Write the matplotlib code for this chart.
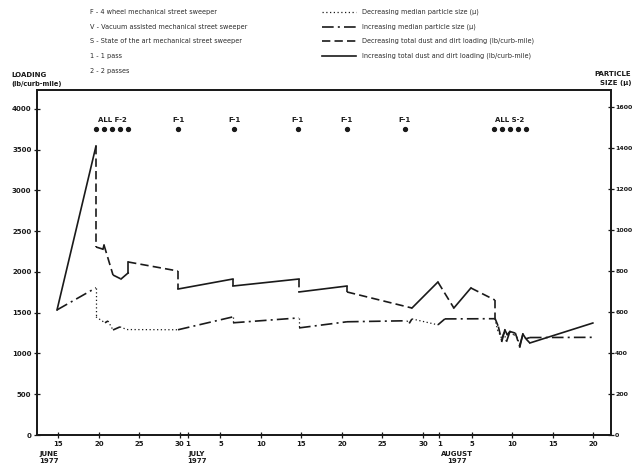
import matplotlib
matplotlib.use("Agg")
import matplotlib.pyplot as plt
from matplotlib.lines import Line2D

plt.rcParams['font.family'] = ['DejaVu Sans']

# x values are days after 15 June 1977
loading_days = [-0.16, 4.65, 4.65, 5.51, 5.64, 6.75, 7.74, 8.61, 8.61, 14.77, 14.77,
                21.55, 21.55, 29.70, 29.70, 35.62, 35.62, 43.64, 46.84, 48.81, 50.91,
                53.87, 53.87, 54.3, 54.73, 55.1, 55.4, 55.72, 56.4, 56.95, 57.32, 57.7,
                58.19, 65.96]
loading = [1534, 3546, 2307, 2280, 2330, 1963, 1914, 1988, 2123, 2012, 1791,
           1914, 1828, 1914, 1755, 1828, 1755, 1558, 1877, 1558, 1804,
           1656, 1435, 1330, 1150, 1290, 1230, 1270, 1250, 1080, 1240, 1180,
           1129, 1374]

size_days = [-0.16, 4.65, 4.65, 5.76, 6.13, 6.75, 7.61, 8.48, 14.77, 21.55, 21.55,
             29.70, 29.70, 35.62, 43.02, 43.3, 43.64, 46.84, 47.70, 53.87, 54.2,
             54.73, 55.0, 55.3, 55.72, 56.2, 56.58, 56.95, 57.32, 57.7, 58.19, 65.96]
size = [611, 719, 577, 548, 557, 513, 528, 515, 514, 577, 548,
        572, 523, 553, 558, 545, 567, 538, 567, 568, 513,
        470, 500, 455, 505, 490, 480, 440, 489, 470, 476, 477]

# sweeping events
event_labels = ["ALL F-2", "F-1", "F-1", "F-1", "F-1", "F-1", "ALL S-2"]
event_days = [[4.65, 5.64, 6.62, 7.61, 8.61], [14.77], [21.68], [29.57], [35.62],
              [42.77], [53.75, 54.74, 55.72, 56.71, 57.7]]
event_level = 3755

tick_days = [0, 5, 10, 15, 16, 20, 25, 30, 35, 40, 45, 47, 51, 56, 61, 66]
tick_labels = ["15", "20", "25", "30", "1", "5", "10", "15", "20", "25", "30",
               "1", "5", "10", "15", "20"]
months = ["JUNE\n1977", "JULY\n1977", "AUGUST\n1977"]
month_days = [-1.15, 17.1, 49.2]

key_text = ["F - 4 wheel mechanical street sweeper",
            "V - Vacuum assisted mechanical street sweeper",
            "S - State of the art mechanical street sweeper",
            "1 - 1 pass",
            "2 - 2 passes"]
line_text = ["Decreasing median particle size (\u03bc)",
             "Increasing median particle size (\u03bc)",
             "Decreasing total dust and dirt loading (lb/curb-mile)",
             "Increasing total dust and dirt loading (lb/curb-mile)"]

ink = '#1a1a1a'
W, H = 633, 468

fig = plt.figure(figsize=(6.33, 4.68), dpi=100)
ax = fig.add_axes([37 / W, 1 - 435 / H, 574 / W, 345 / H])
ax2 = ax.twinx()

lw = 1.2
dot_style = dict(color=ink, lw=0.9, dashes=(1, 2))
dashdot_style = dict(color=ink, lw=lw, dashes=(7, 2.5, 1.2, 2.5))
dash_style = dict(color=ink, lw=lw, dashes=(5, 2.5))
solid_style = dict(color=ink, lw=lw, linestyle='-')

# loading: solid when increasing, dashed when decreasing
for i in range(len(loading) - 1):
    st = solid_style if loading[i + 1] > loading[i] else dash_style
    ax.plot(loading_days[i:i + 2], loading[i:i + 2], **st)

# particle size: dash-dot when increasing, dotted when decreasing
for i in range(len(size) - 1):
    st = dashdot_style if size[i + 1] > size[i] else dot_style
    ax2.plot(size_days[i:i + 2], size[i:i + 2], **st)

for lab, ds in zip(event_labels, event_days):
    ax.plot(ds, [event_level] * len(ds), 'o', color=ink, ms=2.8, ls='none')
    ax.annotate(lab, (sum(ds) / len(ds), event_level), xytext=(0, 4.5),
                textcoords='offset points', ha='center', va='bottom',
                fontsize=5, color=ink, fontweight='bold')

ax.set_xlim(-2.63, 68.2)
ax.set_ylim(0, 4233)
ax2.set_ylim(0, 1685)
ax.set_yticks(range(0, 4001, 500))
ax2.set_yticks(range(0, 1601, 200))
ax.set_xticks(tick_days)
ax.set_xticklabels(tick_labels)

ax.tick_params(direction='inout', length=4, width=0.9, labelsize=5,
               colors=ink, pad=2)
ax2.tick_params(direction='inout', length=4, width=0.9, labelsize=4.5,
                colors=ink, pad=1)
for a in (ax, ax2):
    for lab in a.get_xticklabels() + a.get_yticklabels():
        lab.set_fontweight('bold')
    for sp in a.spines.values():
        sp.set_linewidth(1.3)
        sp.set_color(ink)

for m, d in zip(months, month_days):
    ax.text(d, -0.045, m, transform=ax.get_xaxis_transform(), ha='center',
            va='top', fontsize=5, color=ink, linespacing=1.3, fontweight='bold')

fig.text(11 / W, 1 - 75 / H, "LOADING", fontsize=5, color=ink, va='center',
         fontweight='bold')
fig.text(11 / W, 1 - 84 / H, "(lb/curb-mile)", fontsize=4.8, color=ink,
         va='center', fontweight='bold')
fig.text(631 / W, 1 - 74 / H, "PARTICLE", fontsize=5, color=ink, va='center',
         ha='right', fontweight='bold')
fig.text(631 / W, 1 - 83 / H, "SIZE (\u03bc)", fontsize=5, color=ink,
         va='center', ha='right', fontweight='bold')

key_y = [12, 27, 41, 56, 71]
for t, y in zip(key_text, key_y):
    fig.text(90 / W, 1 - y / H, t, fontsize=4.7, color='#2a2a2a', va='center')

samples = [dot_style, dashdot_style, dash_style, solid_style]
for t, y, st in zip(line_text, key_y[:4], samples):
    fig.add_artist(Line2D([322 / W, 356 / W], [1 - y / H, 1 - y / H],
                          transform=fig.transFigure, **st))
    fig.text(362 / W, 1 - y / H, t, fontsize=4.7, color='#2a2a2a', va='center')

plt.savefig("out.png", dpi=100)
